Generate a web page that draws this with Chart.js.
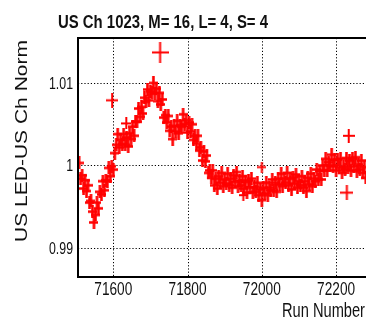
<!DOCTYPE html>
<html>
<head>
<meta charset="utf-8">
<script src="https://cdn.jsdelivr.net/npm/chart.js@4.4.0/dist/chart.umd.min.js"></script>
<style>
  html, body { margin: 0; padding: 0; background: #fff; overflow: hidden; }
  #wrap { width: 366px; height: 325px; overflow: hidden; }
</style>
</head>
<body>
<div id="wrap"><canvas id="chart" width="376" height="325"></canvas></div>
<script>
// run numbers and normalised LED ratio
var runNumbers = [
  71508, 71512, 71516, 71520, 71524, 71528, 71532, 71536, 71540, 71544, 71548, 71552,
  71556, 71560, 71564, 71568, 71572, 71576, 71580, 71584, 71588, 71592, 71596, 71600,
  71604, 71608, 71612, 71616, 71620, 71624, 71628, 71632, 71636, 71640, 71644, 71648,
  71652, 71656, 71660, 71664, 71668, 71672, 71676, 71680, 71684, 71688, 71692, 71696,
  71700, 71704, 71708, 71712, 71716, 71720, 71724, 71728, 71732, 71736, 71740, 71744,
  71748, 71752, 71756, 71760, 71764, 71768, 71772, 71776, 71780, 71784, 71788, 71792,
  71796, 71800, 71804, 71808, 71812, 71816, 71820, 71824, 71828, 71832, 71836, 71840,
  71844, 71848, 71852, 71856, 71860, 71864, 71868, 71872, 71876, 71880, 71884, 71888,
  71892, 71896, 71900, 71904, 71908, 71912, 71916, 71920, 71924, 71928, 71932, 71936,
  71940, 71944, 71948, 71952, 71956, 71960, 71964, 71968, 71972, 71976, 71980, 71984,
  71988, 71992, 71996, 72000, 72004, 72008, 72012, 72016, 72020, 72024, 72028, 72032,
  72036, 72040, 72044, 72048, 72052, 72056, 72060, 72064, 72068, 72072, 72076, 72080,
  72084, 72088, 72092, 72096, 72100, 72104, 72108, 72112, 72116, 72120, 72124, 72128,
  72132, 72136, 72140, 72144, 72148, 72152, 72156, 72160, 72164, 72168, 72172, 72176,
  72180, 72184, 72188, 72192, 72196, 72200, 72204, 72208, 72212, 72216, 72220, 72224,
  72228, 72232, 72236, 72240, 72244, 72248, 72252, 72256, 72260, 72264, 72268, 72272,
  72276, 72280
];
var ledRatio = [
  1.0003, 0.9984, 0.9988, 0.9972, 0.9982, 0.9969, 0.9976, 0.9955, 0.9957, 0.9944, 0.9931, 0.9940,
  0.9955, 0.9948, 0.9968, 0.9965, 0.9981, 0.9970, 0.9982, 0.9981, 0.9997, 0.9987, 0.9999, 0.9995,
  1.0015, 1.0025, 1.0038, 1.0022, 1.0031, 1.0026, 1.0038, 1.0025, 1.0034, 1.0023, 1.0039, 1.0032,
  1.0047, 1.0036, 1.0053, 1.0053, 1.0069, 1.0059, 1.0071, 1.0063, 1.0082, 1.0077, 1.0092, 1.0079,
  1.0090, 1.0088, 1.0100, 1.0087, 1.0093, 1.0078, 1.0088, 1.0074, 1.0080, 1.0058, 1.0061, 1.0052,
  1.0060, 1.0042, 1.0047, 1.0032, 1.0048, 1.0041, 1.0054, 1.0039, 1.0049, 1.0047, 1.0062, 1.0050,
  1.0055, 1.0040, 1.0052, 1.0041, 1.0050, 1.0031, 1.0036, 1.0027, 1.0036, 1.0018, 1.0022, 1.0006,
  1.0017, 1.0005, 1.0012, 0.9991, 0.9994, 0.9985, 0.9994, 0.9976, 0.9984, 0.9972, 0.9987, 0.9979,
  0.9991, 0.9975, 0.9983, 0.9978, 0.9990, 0.9976, 0.9984, 0.9973, 0.9988, 0.9980, 0.9992, 0.9975,
  0.9982, 0.9976, 0.9987, 0.9972, 0.9980, 0.9967, 0.9982, 0.9973, 0.9984, 0.9967, 0.9974, 0.9968,
  0.9979, 0.9964, 0.9971, 0.9958, 0.9973, 0.9966, 0.9979, 0.9964, 0.9973, 0.9970, 0.9983, 0.9970,
  0.9979, 0.9968, 0.9984, 0.9977, 0.9990, 0.9975, 0.9984, 0.9979, 0.9991, 0.9976, 0.9984, 0.9971,
  0.9986, 0.9978, 0.9989, 0.9973, 0.9981, 0.9976, 0.9987, 0.9973, 0.9981, 0.9969, 0.9985, 0.9977,
  0.9990, 0.9975, 0.9984, 0.9981, 0.9995, 0.9983, 0.9993, 0.9983, 1.0000, 0.9994, 1.0008, 0.9994,
  1.0004, 1.0000, 1.0013, 0.9999, 1.0007, 0.9994, 1.0007, 0.9997, 1.0008, 0.9991, 0.9999, 0.9995,
  1.0009, 0.9997, 1.0006, 0.9994, 1.0008, 0.9999, 1.0010, 0.9993, 1.0001, 0.9995, 1.0006, 0.9991,
  0.9998, 0.9985
];
// runs with large errors (bigger crosses)
var outlierRuns = [71597, 71635, 71726, 71950, 72000, 72229, 72234];
var outlierRatio = [1.0079, 1.0051, 1.0137, 0.9964, 0.9998, 0.9967, 1.0036];

var xTicks = [71600, 71800, 72000, 72200];
var yTicks = [0.99, 1, 1.01];
var yTickLabels = ["0.99", "1", "1.01"];
var chartTitle = "US Ch 1023, M= 16, L= 4, S= 4";
var xTitle = "Run Number";
var yTitle = "US LED-US Ch Norm";

var mainPoints = runNumbers.map(function(r, i) { return { x: r, y: ledRatio[i] }; });
var outlierPoints = outlierRuns.map(function(r, i) { return { x: r, y: outlierRatio[i] }; });

// cross marker with error-bar look (taller than wide)
function makeCross(w, h, lw) {
    var c = document.createElement('canvas');
    c.width = w; c.height = h;
    var g = c.getContext('2d');
    g.strokeStyle = '#ff0000';
    g.lineWidth = lw;
    g.beginPath();
    g.moveTo(0, h / 2); g.lineTo(w, h / 2);
    g.moveTo(w / 2, 0); g.lineTo(w / 2, h);
    g.stroke();
    return c;
}
var bandMark = makeCross(9, 13, 2.6);
var outlierMarks = [makeCross(12, 15, 2), makeCross(10, 12, 2), makeCross(17, 21, 2),
                    makeCross(9, 12, 2), makeCross(9, 11, 2), makeCross(13, 15, 2),
                    makeCross(12, 14, 2)];

var FONT = '"Liberation Sans", Arial, sans-serif';

// ROOT-like narrow text
function narrowText(ctx, text, x, y, font, sx, align, baseline, rot) {
    ctx.save();
    ctx.font = font;
    ctx.fillStyle = '#111';
    ctx.textAlign = align;
    ctx.textBaseline = baseline;
    ctx.translate(x, y);
    if (rot) ctx.rotate(rot);
    ctx.scale(sx, 1);
    ctx.fillText(text, 0, 0);
    ctx.restore();
}
function fitScale(ctx, text, font, width) {
    ctx.save();
    ctx.font = font;
    var w = ctx.measureText(text).width;
    ctx.restore();
    return width / w;
}

var rootDecor = {
    id: 'rootDecor',
    beforeDatasetsDraw: function(chart) {
        var ctx = chart.ctx, a = chart.chartArea;
        var xs = chart.scales.x, ys = chart.scales.y;
        ctx.save();
        ctx.strokeStyle = '#000';
        ctx.lineWidth = 1;
        ctx.setLineDash([1.2, 2]);
        ctx.beginPath();
        xTicks.forEach(function(v) {
            var px = Math.round(xs.getPixelForValue(v)) + 0.5;
            ctx.moveTo(px, a.top); ctx.lineTo(px, a.bottom);
        });
        yTicks.forEach(function(v) {
            var py = Math.round(ys.getPixelForValue(v)) + 0.5;
            ctx.moveTo(a.left, py); ctx.lineTo(a.right, py);
        });
        ctx.stroke();
        ctx.restore();
    },
    afterDatasetsDraw: function(chart) {
        var ctx = chart.ctx, a = chart.chartArea;
        ctx.save();
        ctx.strokeStyle = '#000';
        ctx.lineWidth = 2;
        ctx.strokeRect(a.left, a.top, a.right - a.left, a.bottom - a.top);
        ctx.restore();
    },
    afterDraw: function(chart) {
        var ctx = chart.ctx;
        var xs = chart.scales.x, ys = chart.scales.y;

        var tf = 'bold 18px ' + FONT;
        narrowText(ctx, chartTitle, 58, 28, tf, fitScale(ctx, chartTitle, tf, 210), 'left', 'alphabetic');
        var xf = '19.5px ' + FONT;
        narrowText(ctx, xTitle, 365, 317, xf, fitScale(ctx, xTitle, xf, 83), 'right', 'alphabetic');
        var yf = '17px ' + FONT;
        narrowText(ctx, yTitle, 27, 40, yf, fitScale(ctx, yTitle, yf, 202), 'right', 'alphabetic', -Math.PI / 2);

        var lf = '19px ' + FONT;
        var sxX = fitScale(ctx, "71600", lf, 38);
        xTicks.forEach(function(v) {
            narrowText(ctx, String(v), xs.getPixelForValue(v), 295, lf, sxX, 'center', 'alphabetic');
        });
        var yl = '17px ' + FONT;
        var sxY = fitScale(ctx, "1.01", yl, 24);
        yTicks.forEach(function(v, i) {
            narrowText(ctx, yTickLabels[i], 73, ys.getPixelForValue(v) + 1, yl, sxY, 'right', 'middle');
        });
    }
};

var ctx = document.getElementById('chart');
new Chart(ctx, {
    type: 'scatter',
    data: {
        datasets: [
            {
                data: mainPoints,
                pointStyle: bandMark,
                borderColor: '#ff0000',
                backgroundColor: '#ff0000'
            },
            {
                data: outlierPoints,
                pointStyle: function(c) { return outlierMarks[c.dataIndex]; },
                borderColor: '#ff0000',
                backgroundColor: '#ff0000'
            }
        ]
    },
    options: {
        responsive: false,
        animation: false,
        events: [],
        layout: { padding: { top: 38, right: 4, left: 0, bottom: 0 } },
        plugins: { legend: { display: false }, tooltip: { enabled: false }, title: { display: false } },
        scales: {
            x: {
                type: 'linear',
                min: 71505,
                max: 72294,
                afterBuildTicks: function(scale) {
                    scale.ticks = xTicks.map(function(v) { return { value: v }; });
                },
                afterFit: function(scale) { scale.height = 48; },
                ticks: { display: false },
                grid: { display: false },
                border: { display: false }
            },
            y: {
                min: 0.98648,
                max: 1.01545,
                afterBuildTicks: function(scale) {
                    scale.ticks = yTicks.map(function(v) { return { value: v }; });
                },
                afterFit: function(scale) { scale.width = 78; },
                ticks: { display: false },
                grid: { display: false },
                border: { display: false }
            }
        }
    },
    plugins: [rootDecor]
});
</script>
</body>
</html>
